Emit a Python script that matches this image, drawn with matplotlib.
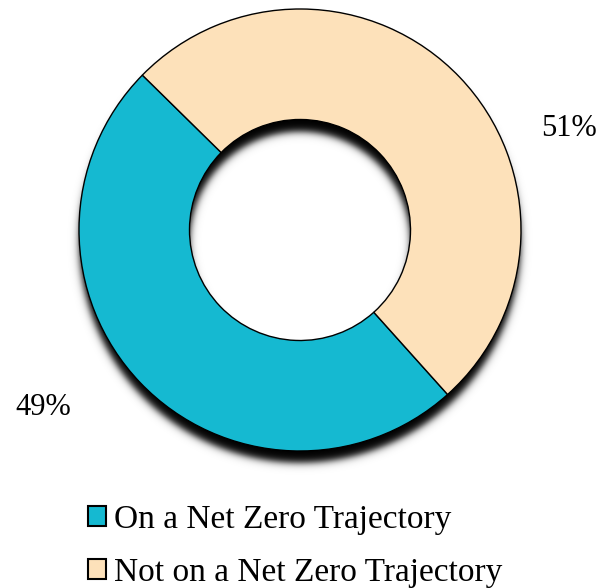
import numpy as np
import matplotlib
matplotlib.use('Agg')
import matplotlib.pyplot as plt
from matplotlib.patches import Patch

# donut data
categories = ['On a Net Zero Trajectory', 'Not on a Net Zero Trajectory']
values = [49, 51]
colors = ['#15B9D1', '#FDE1BA']

plt.rcParams['font.family'] = ['Liberation Serif', 'DejaVu Serif']

W, H = 614, 588
fig = plt.figure(figsize=(W / 100, H / 100), dpi=100)
ax = fig.add_axes([0, 0, 1, 1])

# pixel geometry of the donut (center and radius in px)
cx, cy, R = 300, 230, 221
xlim = (-cx / R, (W - cx) / R)
ylim = (-(H - cy) / R, cy / R)

# soft drop shadow under the ring
off = 12 / R
sigma = 4 / R
xs = np.linspace(xlim[0], xlim[1], W)
ys = np.linspace(ylim[0], ylim[1], H)
gx, gy = np.meshgrid(xs, ys)
r = np.hypot(gx, gy + off)
d = np.minimum(1 - r, r - 0.5)
alpha = 0.5 * (1 + np.tanh(d / sigma * 0.9))
shadow = np.zeros((H, W, 4))
shadow[..., 3] = alpha
ax.imshow(shadow, extent=(xlim[0], xlim[1], ylim[0], ylim[1]),
          origin='lower', zorder=0, interpolation='bilinear')

ax.pie(values, colors=colors, startangle=135.5, counterclock=True, radius=1,
       wedgeprops=dict(width=0.5, edgecolor='black', linewidth=1.0))

# percentage labels
ax.text(-1.16, -0.805, f'{values[0]}%', ha='center', va='center', fontsize=22)
ax.text(1.215, 0.46, f'{values[1]}%', ha='center', va='center', fontsize=22)

ax.set_xlim(*xlim)
ax.set_ylim(*ylim)
ax.axis('off')

handles = [Patch(facecolor=c, edgecolor='black', linewidth=1.5) for c in colors]
fig.legend(handles, categories, loc='upper left', bbox_to_anchor=(88 / W, 0.142),
           frameon=False, fontsize=24, handlelength=0.53, handleheight=0.53,
           handletextpad=0.25, labelspacing=0.66, borderpad=0, borderaxespad=0)

fig.savefig('out.png', dpi=100)
